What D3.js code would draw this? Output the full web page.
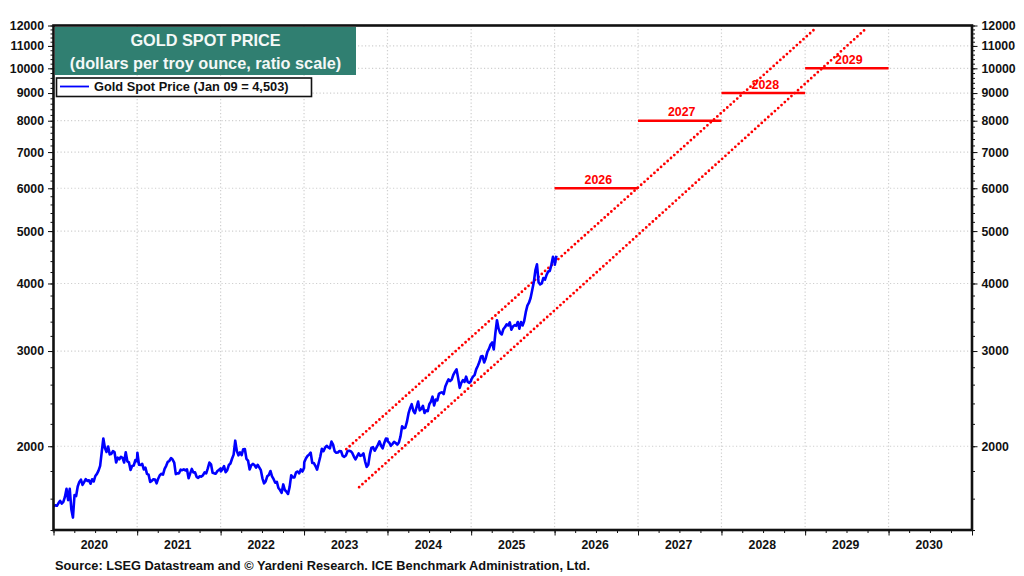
<!DOCTYPE html>
<html>
<head>
<meta charset="utf-8">
<script src="https://cdn.jsdelivr.net/npm/d3@7"></script>
<style>
  html, body { margin: 0; padding: 0; background: #fff; }
  svg { display: block; font-family: "Liberation Sans", Arial, sans-serif; font-weight: bold; }
  .axis text { font-size: 12.3px; fill: #111; font-weight: bold; }
  .axis path, .axis line { stroke: #111; }
</style>
</head>
<body>
<svg id="chart" width="1024" height="576"></svg>
<script>
// weekly gold spot prices
var prices2020 = [1548, 1556, 1552, 1570, 1585, 1567, 1578, 1612, 1668, 1590, 1668, 1530, 1476, 1625, 1618, 1685, 1718, 1735, 1696,
  1716, 1738, 1725, 1730, 1705, 1738, 1722, 1762, 1778, 1803, 1840, 1950, 2067, 1985, 1952, 1998, 1932, 1936, 1958, 1950, 1866,
  1905, 1892, 1912, 1904, 1866, 1950, 1876, 1868, 1808, 1838, 1842, 1886, 1876];
var prices2021 = [1945, 1848, 1846, 1856, 1812, 1826, 1778, 1772, 1718, 1726, 1738, 1736, 1708, 1742, 1768, 1778, 1772, 1816,
  1840, 1872, 1880, 1902, 1890, 1866, 1776, 1782, 1782, 1810, 1806, 1812, 1804, 1812, 1745, 1782, 1816, 1788, 1790, 1756, 1748,
  1760, 1757, 1768, 1790, 1782, 1820, 1866, 1852, 1786, 1782, 1780, 1800, 1808, 1820];
var prices2022 = [1796, 1812, 1838, 1790, 1806, 1846, 1858, 1896, 1930, 2048, 1960, 1924, 1948, 1926, 1975, 1976, 1896, 1882,
  1812, 1845, 1855, 1846, 1826, 1848, 1828, 1806, 1745, 1708, 1722, 1760, 1770, 1800, 1760, 1738, 1712, 1718, 1674, 1660, 1640,
  1700, 1660, 1648, 1632, 1682, 1768, 1752, 1752, 1790, 1796, 1782, 1812, 1796, 1824];
var prices2023 = [1868, 1898, 1918, 1930, 1946, 1862, 1862, 1838, 1810, 1860, 1912, 1978, 1958, 1988, 2004, 1990, 1982, 2040,
  2014, 1958, 1946, 1948, 1960, 1958, 1920, 1912, 1922, 1958, 1962, 1958, 1944, 1914, 1892, 1916, 1940, 1920, 1924, 1940, 1876,
  1832, 1848, 1932, 1988, 1992, 1962, 1986, 2012, 2042, 2004, 1982, 2028, 2066, 2064];
var prices2024 = [2042, 2030, 2004, 2020, 2038, 2028, 2014, 2032, 2086, 2178, 2160, 2164, 2218, 2300, 2352, 2392, 2326, 2302,
  2360, 2420, 2330, 2345, 2375, 2304, 2330, 2322, 2392, 2418, 2470, 2380, 2440, 2432, 2500, 2512, 2516, 2498, 2580, 2622, 2658,
  2640, 2656, 2710, 2745, 2775, 2676, 2564, 2620, 2650, 2630, 2690, 2630, 2620, 2640];
var prices2025 = [2658, 2690, 2708, 2775, 2815, 2862, 2930, 2936, 2858, 2910, 2990, 3028, 3085, 3112, 3020, 3238, 3420, 3300,
  3240, 3220, 3295, 3320, 3360, 3345, 3390, 3285, 3330, 3350, 3340, 3395, 3300, 3395, 3345, 3410, 3540, 3640, 3685, 3760, 3885,
  4020, 4230, 4340, 4020, 3985, 4000, 4095, 4065, 4150, 4210, 4220, 4330, 4480, 4380];
var prices2026 = [4332, 4503];
var priceYears = [2020, 2021, 2022, 2023, 2024, 2025, 2026];
var priceSets = [prices2020, prices2021, prices2022, prices2023, prices2024, prices2025, prices2026];

// year-end target bars
var targetYears = [2026, 2027, 2028, 2029];
var targetValues = [6000, 8000, 9000, 10000];

// dotted uptrend channel: [start, end] of each edge
var upperDates = ["2023-07-05", "2029-02-20"];
var upperValues = [1975, 11900];
var lowerDates = ["2023-08-30", "2029-09-30"];
var lowerValues = [1680, 11900];

var yLabels = [2000, 3000, 4000, 5000, 6000, 7000, 8000, 9000, 10000, 11000, 12000];
var yMinor = d3.range(1400, 12001, 200);
var yearLabels = [2020, 2021, 2022, 2023, 2024, 2025, 2026, 2027, 2028, 2029, 2030];

var svg = d3.select('#chart');
var plotLeft = 53.5, plotRight = 972, plotTop = 25.5, plotBottom = 530;

var x = d3.scaleTime()
  .domain([new Date(2020, 0, 1), new Date(2031, 0, 1)])
  .range([plotLeft, plotRight]);
var y = d3.scaleLog()
  .domain([1400, 12000])
  .range([plotBottom, plotTop]);

var yearStarts = d3.timeYear.range(new Date(2020, 0, 1), new Date(2032, 0, 1));
var quarters = d3.timeMonth.range(new Date(2020, 0, 1), new Date(2031, 0, 2), 3);

// dotted grid
var grid = svg.append('g').attr('fill', 'none').attr('stroke', '#cfcfcf')
  .attr('stroke-width', 1.2).attr('stroke-dasharray', '1.2 2.3');
grid.selectAll('line.h').data(yLabels.slice(0, -1)).enter().append('line')
  .attr('x1', plotLeft).attr('x2', plotRight).attr('y1', function (d) { return y(d); }).attr('y2', function (d) { return y(d); });
grid.selectAll('line.v').data(yearStarts.slice(1, -1)).enter().append('line')
  .attr('y1', plotTop).attr('y2', plotBottom).attr('x1', function (d) { return x(d); }).attr('x2', function (d) { return x(d); });

// target bars and their labels
targetYears.forEach(function (year, i) {
  var x0 = x(new Date(year, 0, 1)), x1 = x(new Date(year + 1, 0, 1)), yy = y(targetValues[i]);
  svg.append('line').attr('x1', x0).attr('x2', x1).attr('y1', yy).attr('y2', yy)
    .attr('stroke', '#ff0000').attr('stroke-width', 2.4);
  svg.append('text').attr('x', (x0 + x1) / 2 + 2).attr('y', yy - 4.5).attr('text-anchor', 'middle')
    .attr('fill', '#ff0000').attr('font-size', 12.4).text(year);
});

// channel
var edge = d3.line().x(function (d) { return x(new Date(d[0] + 'T00:00:00')); }).y(function (d) { return y(d[1]); });
[[upperDates, upperValues], [lowerDates, lowerValues]].forEach(function (c) {
  svg.append('path').datum(d3.zip(c[0], c[1])).attr('d', edge).attr('fill', 'none')
    .attr('stroke', '#ff0000').attr('stroke-width', 2.8).attr('stroke-linecap', 'round')
    .attr('stroke-dasharray', '0 4.45');
});

// price line
var points = [];
priceYears.forEach(function (year, i) {
  priceSets[i].forEach(function (v, w) {
    points.push({ date: new Date(year, 0, 2 + 7 * w), value: v });
  });
});
var line = d3.line().x(function (d) { return x(d.date); }).y(function (d) { return y(d.value); });
svg.append('path').datum(points).attr('d', line).attr('fill', 'none')
  .attr('stroke', '#0000ff').attr('stroke-width', 2.6).attr('stroke-linejoin', 'round');

// frame
svg.append('rect').attr('x', plotLeft).attr('y', plotTop).attr('width', plotRight - plotLeft).attr('height', plotBottom - plotTop)
  .attr('fill', 'none').attr('stroke', '#111').attr('stroke-width', 2.6);

// axes
function noDomain(g) { g.select('.domain').remove(); }
svg.append('g').attr('class', 'axis').attr('transform', 'translate(' + plotLeft + ',0)')
  .call(d3.axisLeft(y).tickValues(yMinor).tickSize(3).tickFormat('')).call(noDomain);
svg.append('g').attr('class', 'axis').attr('transform', 'translate(' + plotRight + ',0)')
  .call(d3.axisRight(y).tickValues(yMinor).tickSize(3).tickFormat('')).call(noDomain);
svg.append('g').attr('class', 'axis').attr('transform', 'translate(' + plotLeft + ',0)')
  .call(d3.axisLeft(y).tickValues(yLabels).tickSize(5.5).tickPadding(4).tickFormat(d3.format('d'))).call(noDomain);
svg.append('g').attr('class', 'axis').attr('transform', 'translate(' + plotRight + ',0)')
  .call(d3.axisRight(y).tickValues(yLabels).tickSize(5.5).tickPadding(4).tickFormat(d3.format('d'))).call(noDomain);
svg.append('g').attr('class', 'axis').attr('transform', 'translate(0,' + plotBottom + ')')
  .call(d3.axisBottom(x).tickValues(quarters).tickSize(3).tickFormat('')).call(noDomain);
svg.append('g').attr('class', 'axis').attr('transform', 'translate(0,' + plotBottom + ')')
  .call(d3.axisBottom(x).tickValues(yearStarts).tickSize(5.5).tickFormat('')).call(noDomain);
svg.append('g').attr('class', 'axis').selectAll('text').data(yearLabels).enter().append('text')
  .attr('x', function (d) { return x(new Date(d, 6, 2)) - 1; }).attr('y', 549).attr('text-anchor', 'middle')
  .text(function (d) { return d; });

// title block
svg.append('rect').attr('x', 55).attr('y', 27).attr('width', 301).attr('height', 48).attr('fill', '#307f71');
svg.append('text').attr('x', 205.5).attr('y', 45.5).attr('text-anchor', 'middle').attr('fill', '#f4f8f7')
  .attr('font-size', 16.3).text('GOLD SPOT PRICE');
svg.append('text').attr('x', 205.5).attr('y', 68.5).attr('text-anchor', 'middle').attr('fill', '#f4f8f7')
  .attr('font-size', 16.3).text('(dollars per troy ounce, ratio scale)');

// legend
svg.append('rect').attr('x', 56.5).attr('y', 78).attr('width', 255).attr('height', 18.5)
  .attr('fill', '#fff').attr('stroke', '#111').attr('stroke-width', 1.6);
svg.append('line').attr('x1', 60).attr('x2', 89).attr('y1', 86.5).attr('y2', 86.5)
  .attr('stroke', '#0000ff').attr('stroke-width', 1.8);
svg.append('text').attr('x', 94).attr('y', 91).attr('fill', '#111').attr('font-size', 12.8)
  .text('Gold Spot Price (Jan 09 = 4,503)');

// source
svg.append('text').attr('x', 55).attr('y', 570).attr('fill', '#111').attr('font-size', 12.8)
  .text('Source: LSEG Datastream and \u00a9 Yardeni Research. ICE Benchmark Administration, Ltd.');
</script>
</body>
</html>
